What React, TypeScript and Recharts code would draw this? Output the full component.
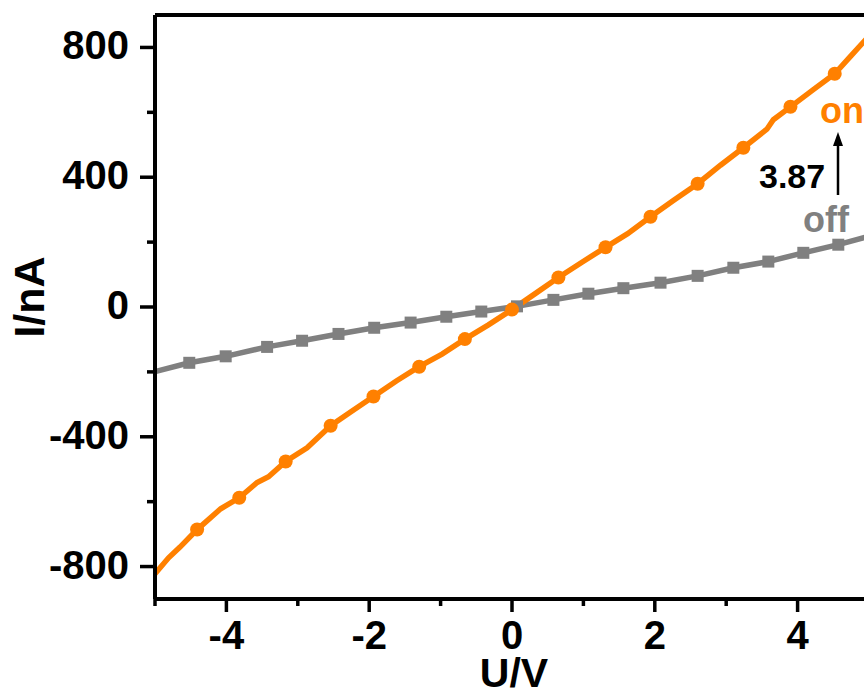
import React from 'react';
import { LineChart, Line, XAxis, YAxis, ReferenceLine } from 'recharts';

// "on" state curve (orange), U in V, I in nA
const onV = [-5.0, -4.81, -4.65, -4.41, -4.08, -3.82, -3.57, -3.41, -3.17, -2.87, -2.54, -2.25, -1.94, -1.62, -1.3, -0.98, -0.66, -0.33, 0.0, 0.33, 0.65, 0.98, 1.31, 1.62, 1.94, 2.27, 2.6, 2.92, 3.24, 3.57, 3.66, 3.9, 4.22, 4.52, 4.75, 5.0];
const onI = [-822, -773, -740, -686, -622, -588, -541, -523, -476, -434, -366, -322, -276, -228, -184, -145, -99, -55, -8, 42, 91, 138, 184, 226, 278, 330, 380, 437, 491, 548, 577, 617, 670, 719, 775, 835];
const onMarkers = [-4.41, -3.82, -3.17, -2.54, -1.94, -1.3, -0.66, 0.0, 0.65, 1.31, 1.94, 2.6, 3.24, 3.9, 4.52];

// "off" state curve (grey)
const offV = [-5.0, -4.52, -4.01, -3.43, -2.94, -2.43, -1.93, -1.42, -0.92, -0.43, 0.07, 0.58, 1.07, 1.56, 2.08, 2.6, 3.1, 3.59, 4.08, 4.57, 5.0];
const offI = [-199, -172, -152, -123, -104, -83, -64, -48, -30, -14, 2, 22, 41, 58, 75, 96, 121, 140, 167, 192, 218];

const xTicks = [-5, -4, -3, -2, -1, 0, 1, 2, 3, 4, 5];
const yTicks = [-800, -600, -400, -200, 0, 200, 400, 600, 800];

const ORANGE = '#FF8000';
const GREY = '#808080';
const FONT = '"Liberation Sans", Arial, sans-serif';

const onData = onV.map((v, k) => ({ v, i: onI[k] }));
const offData = offV.map((v, k) => ({ v, i: offI[k] }));

const XTick = (props: any) => {
  const { x, y, payload } = props;
  const major = payload.value % 2 === 0;
  return (
    <g>
      <line x1={x} x2={x} y1={y} y2={y + (major ? 13 : 7)} stroke="#000" strokeWidth={3.5} />
      {major && (
        <text x={x} y={y + 50} textAnchor="middle" fontFamily={FONT} fontWeight="bold" fontSize={40} fill="#000">
          {payload.value}
        </text>
      )}
    </g>
  );
};

const YTick = (props: any) => {
  const { x, y, payload } = props;
  const major = payload.value % 400 === 0;
  return (
    <g>
      <line x1={x} x2={x - (major ? 15 : 8)} y1={y} y2={y} stroke="#000" strokeWidth={3.5} />
      {major && (
        <text x={x - 26} y={y + 12} textAnchor="end" fontFamily={FONT} fontWeight="bold" fontSize={40} fill="#000">
          {payload.value}
        </text>
      )}
    </g>
  );
};

const onDot = (props: any) => {
  const { cx, cy, payload, index } = props;
  if (!onMarkers.includes(payload.v)) return <g key={`on-${index}`} />;
  return <circle key={`on-${index}`} cx={cx} cy={cy} r={7} fill={ORANGE} />;
};

const offDot = (props: any) => {
  const { cx, cy, index } = props;
  if (index === 0 || index === offV.length - 1) return <g key={`off-${index}`} />;
  return <rect key={`off-${index}`} x={cx - 6} y={cy - 6} width={12} height={12} fill={GREY} />;
};

export default function App() {
  return (
    <div style={{ position: 'fixed', left: 0, top: 0, width: 864, height: 693, overflow: 'hidden', background: '#fff' }}>
      <LineChart width={880} height={693} margin={{ top: 15, right: 11, bottom: 0, left: 0 }}>
        <XAxis
          dataKey="v"
          type="number"
          domain={[-5, 5]}
          ticks={xTicks}
          interval={0}
          height={94}
          tickSize={0}
          tickMargin={0}
          tickLine={false}
          tick={<XTick />}
          axisLine={{ stroke: '#000', strokeWidth: 4 }}
          allowDuplicatedCategory={false}
        />
        <YAxis
          dataKey="i"
          type="number"
          domain={[-900, 900]}
          ticks={yTicks}
          interval={0}
          width={155}
          tickSize={0}
          tickMargin={0}
          tickLine={false}
          tick={<YTick />}
          axisLine={{ stroke: '#000', strokeWidth: 4 }}
        />
        <ReferenceLine y={900} stroke="#000" strokeWidth={4} />
        <ReferenceLine x={5} stroke="#000" strokeWidth={4} />
        <Line data={offData} dataKey="i" stroke={GREY} strokeWidth={5.5} dot={offDot} isAnimationActive={false} />
        <Line data={onData} dataKey="i" stroke={ORANGE} strokeWidth={5.5} dot={onDot} isAnimationActive={false} />
      </LineChart>
      <svg width={864} height={693} style={{ position: 'absolute', left: 0, top: 0, pointerEvents: 'none' }}>
        <text x={29} y={297} transform="rotate(-90 29 297)" dy={15} textAnchor="middle" fontFamily={FONT} fontWeight="bold" fontSize={43} fill="#000">
          I/nA
        </text>
        <text x={514} y={687} textAnchor="middle" fontFamily={FONT} fontWeight="bold" fontSize={41} fill="#000">
          U/V
        </text>
        <text x={820} y={123} fontFamily={FONT} fontWeight="bold" fontSize={36} fill={ORANGE}>
          on
        </text>
        <text x={759} y={188} fontFamily={FONT} fontWeight="bold" fontSize={34} fill="#000">
          3.87
        </text>
        <line x1={838} x2={838} y1={195} y2={142} stroke="#000" strokeWidth={2.5} />
        <polygon points="838,132 833,146 843,146" fill="#000" />
        <text x={803} y={232} fontFamily={FONT} fontWeight="bold" fontSize={36} fill={GREY}>
          off
        </text>
      </svg>
    </div>
  );
}
